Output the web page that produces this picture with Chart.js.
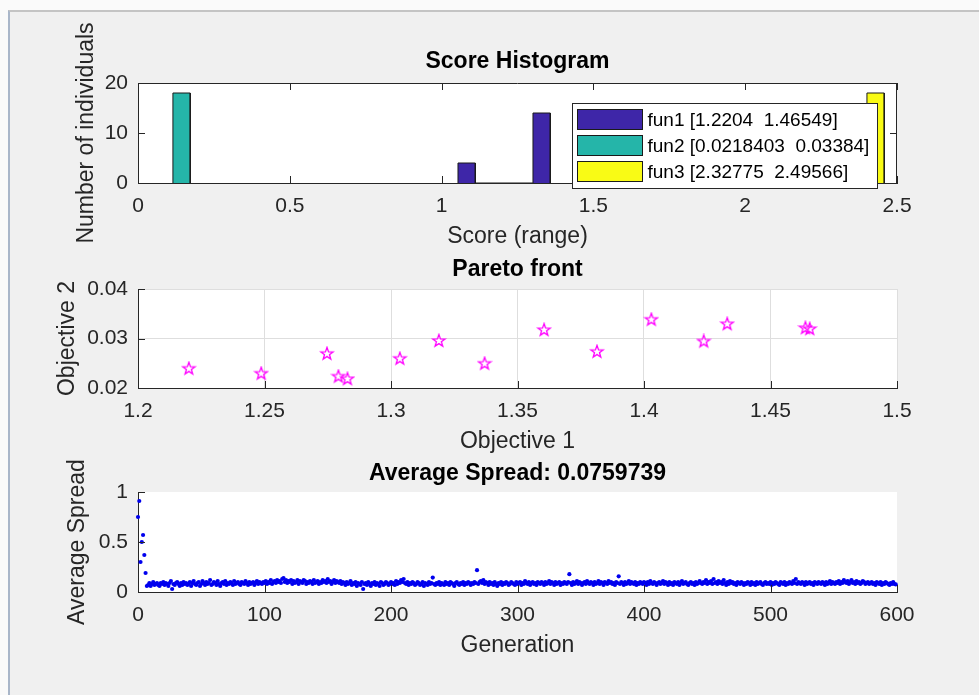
<!DOCTYPE html>
<html>
<head>
<meta charset="utf-8">
<script src="https://cdn.jsdelivr.net/npm/chart.js@4.4.1/dist/chart.umd.min.js"></script>
<style>
  html, body { margin: 0; padding: 0; width: 979px; height: 695px; overflow: hidden; background: #fafafa; }
  #fig { position: absolute; left: 8px; top: 10px; width: 971px; height: 685px; background: #f0f0f0;
         border-left: 2px solid #a9b6c9; border-top: 2px solid #c4c4c4; }
  canvas { position: absolute; left: 0; }
</style>
</head>
<body>
<div id="fig"></div>
<canvas id="histChart" width="979" height="250" style="top:5px"></canvas>
<canvas id="paretoChart" width="979" height="215" style="top:245px"></canvas>
<canvas id="spreadChart" width="979" height="240" style="top:445px"></canvas>
<script>
// score histogram: left edge of each bin + count, per function
const binWidth = 0.057;
const fun1Bins = [1.054, 1.301];
const fun1Counts = [4, 14];
const fun2Bins = [0.115];
const fun2Counts = [18];
const fun3Bins = [2.401];
const fun3Counts = [18];
const legendLabels = ["fun1 [1.2204  1.46549]", "fun2 [0.0218403  0.03384]", "fun3 [2.32775  2.49566]"];

// pareto front
const objective1 = [1.2201, 1.2487, 1.2747, 1.2792, 1.2828, 1.3035, 1.3189, 1.3370, 1.3605, 1.3814, 1.4029, 1.4236, 1.4329, 1.4638, 1.4655];
const objective2 = [0.0239, 0.0229, 0.0269, 0.0223, 0.0218, 0.0259, 0.0295, 0.0249, 0.0317, 0.0273, 0.0338, 0.0294, 0.0329, 0.0321, 0.0319];

// average spread per generation
const spread = [
  0.75,0.91,0.30,0.50,0.57,0.37,0.19,0.06,0.07,0.09,0.06,0.08,0.10,0.07,0.08,0.09,0.07,0.06,0.09,0.08,
  0.10,0.07,0.09,0.08,0.06,0.09,0.11,0.03,0.08,0.07,0.09,0.10,0.08,0.06,0.09,0.07,0.10,0.08,0.09,0.07,
  0.08,0.10,0.06,0.09,0.11,0.08,0.07,0.09,0.10,0.06,0.08,0.11,0.09,0.07,0.10,0.08,0.09,0.12,0.07,0.08,
  0.10,0.09,0.07,0.11,0.08,0.06,0.09,0.10,0.08,0.11,0.07,0.09,0.08,0.10,0.09,0.07,0.11,0.08,0.09,0.10,
  0.08,0.07,0.10,0.09,0.08,0.11,0.09,0.07,0.10,0.08,0.09,0.10,0.07,0.09,0.11,0.08,0.10,0.09,0.08,0.10,
  0.09,0.11,0.08,0.10,0.09,0.12,0.08,0.10,0.11,0.09,0.12,0.10,0.11,0.09,0.13,0.14,0.10,0.12,0.09,0.11,
  0.10,0.12,0.08,0.11,0.09,0.10,0.12,0.08,0.11,0.10,0.09,0.12,0.11,0.08,0.10,0.09,0.11,0.10,0.08,0.12,
  0.09,0.10,0.11,0.08,0.10,0.09,0.12,0.10,0.11,0.09,0.13,0.10,0.11,0.08,0.10,0.12,0.09,0.11,0.10,0.09,
  0.11,0.08,0.10,0.09,0.07,0.10,0.08,0.09,0.11,0.07,0.09,0.08,0.10,0.06,0.09,0.08,0.07,0.10,0.03,0.08,
  0.09,0.07,0.10,0.08,0.06,0.09,0.08,0.10,0.07,0.09,0.08,0.06,0.10,0.09,0.07,0.08,0.10,0.09,0.07,0.08,
  0.10,0.08,0.09,0.07,0.11,0.08,0.10,0.09,0.12,0.10,0.13,0.09,0.08,0.10,0.07,0.09,0.08,0.10,0.09,0.07,
  0.08,0.10,0.09,0.07,0.08,0.10,0.06,0.09,0.08,0.07,0.10,0.08,0.09,0.144,0.08,0.07,0.09,0.08,0.10,0.07,
  0.09,0.08,0.07,0.10,0.08,0.09,0.07,0.10,0.09,0.08,0.06,0.09,0.10,0.08,0.07,0.09,0.08,0.10,0.07,0.09,
  0.08,0.10,0.09,0.07,0.09,0.08,0.10,0.09,0.218,0.08,0.10,0.11,0.09,0.12,0.08,0.10,0.09,0.07,0.10,0.08,
  0.09,0.07,0.10,0.08,0.06,0.09,0.08,0.10,0.07,0.09,0.08,0.10,0.09,0.07,0.08,0.10,0.09,0.08,0.07,0.10,
  0.08,0.09,0.10,0.07,0.09,0.08,0.11,0.09,0.08,0.10,0.07,0.09,0.10,0.08,0.09,0.07,0.10,0.09,0.08,0.10,
  0.09,0.07,0.10,0.08,0.09,0.11,0.08,0.10,0.09,0.07,0.10,0.08,0.09,0.10,0.07,0.09,0.08,0.10,0.09,0.08,
  0.10,0.178,0.09,0.07,0.10,0.08,0.09,0.11,0.08,0.10,0.09,0.07,0.09,0.10,0.08,0.11,0.09,0.08,0.10,0.09,
  0.07,0.10,0.08,0.09,0.11,0.08,0.10,0.09,0.07,0.10,0.09,0.08,0.11,0.09,0.10,0.08,0.09,0.07,0.10,0.09,
  0.157,0.08,0.10,0.09,0.07,0.10,0.08,0.09,0.11,0.08,0.10,0.09,0.08,0.10,0.07,0.09,0.08,0.10,0.09,0.08,
  0.10,0.09,0.07,0.10,0.08,0.11,0.09,0.08,0.10,0.09,0.07,0.09,0.10,0.08,0.09,0.11,0.08,0.10,0.09,0.07,
  0.10,0.08,0.09,0.07,0.10,0.09,0.08,0.10,0.07,0.09,0.11,0.08,0.09,0.10,0.08,0.07,0.09,0.10,0.08,0.09,
  0.07,0.10,0.08,0.09,0.11,0.09,0.08,0.10,0.09,0.12,0.08,0.10,0.09,0.11,0.08,0.13,0.09,0.10,0.08,0.11,
  0.09,0.10,0.08,0.12,0.09,0.07,0.10,0.08,0.11,0.09,0.10,0.08,0.09,0.07,0.10,0.09,0.08,0.10,0.09,0.07,
  0.09,0.08,0.10,0.09,0.07,0.10,0.08,0.09,0.07,0.10,0.08,0.09,0.10,0.08,0.07,0.09,0.10,0.08,0.09,0.08,
  0.10,0.07,0.09,0.08,0.10,0.09,0.08,0.07,0.10,0.09,0.08,0.10,0.07,0.09,0.08,0.10,0.09,0.08,0.11,0.09,
  0.13,0.08,0.10,0.09,0.08,0.10,0.09,0.07,0.10,0.08,0.09,0.10,0.08,0.09,0.07,0.10,0.09,0.08,0.10,0.09,
  0.08,0.10,0.09,0.07,0.10,0.08,0.09,0.11,0.08,0.10,0.09,0.08,0.10,0.09,0.11,0.08,0.10,0.09,0.12,0.10,
  0.09,0.11,0.08,0.10,0.12,0.09,0.10,0.08,0.11,0.09,0.10,0.08,0.09,0.11,0.10,0.08,0.09,0.10,0.08,0.09,
  0.10,0.08,0.09,0.07,0.10,0.09,0.08,0.10,0.07,0.09,0.08,0.10,0.09,0.08,0.07,0.09,0.08,0.10,0.08,0.076
];

const FONT = '"Liberation Sans", Arial, Helvetica, sans-serif';
const INK = "#262626";
const colors = { fun1: "#3e26a8", fun2: "#25b5a9", fun3: "#f9fb15" };

Chart.defaults.font.family = FONT;
Chart.defaults.color = INK;
Chart.defaults.animation = false;
Chart.defaults.events = [];

const fmt = v => String(+Number(v).toFixed(3));

// white axes background, inward tick marks, optional full box (MATLAB look)
const matlabAxes = {
  id: "matlabAxes",
  beforeDraw(chart) {
    const { ctx, chartArea: a } = chart;
    ctx.save();
    ctx.fillStyle = "#fff";
    ctx.fillRect(a.left, a.top, a.right - a.left, a.bottom - a.top);
    ctx.restore();
  },
  afterDraw(chart, args, opts) {
    const { ctx, chartArea: a } = chart;
    const len = 7;
    ctx.save();
    ctx.strokeStyle = INK;
    ctx.lineWidth = 1;
    ctx.beginPath();
    for (const t of chart.scales.x.ticks) {
      const px = Math.round(chart.scales.x.getPixelForValue(t.value)) + 0.5;
      ctx.moveTo(px, a.bottom); ctx.lineTo(px, a.bottom - len);
      if (opts.box) { ctx.moveTo(px, a.top); ctx.lineTo(px, a.top + len); }
    }
    for (const t of chart.scales.y.ticks) {
      const py = Math.round(chart.scales.y.getPixelForValue(t.value)) + 0.5;
      ctx.moveTo(a.left, py); ctx.lineTo(a.left + len, py);
      if (opts.box) { ctx.moveTo(a.right, py); ctx.lineTo(a.right - len, py); }
    }
    if (opts.box) {
      ctx.moveTo(a.left, Math.round(a.top) + 0.5); ctx.lineTo(a.right, Math.round(a.top) + 0.5);
      ctx.moveTo(Math.round(a.right) - 0.5, a.top); ctx.lineTo(Math.round(a.right) - 0.5, a.bottom);
    }
    ctx.stroke();
    ctx.restore();
  }
};

// legend box inside the histogram axes, top right
const histLegend = {
  id: "histLegend",
  afterDraw(chart) {
    const { ctx, chartArea: a } = chart;
    const w = 305, h = 85;
    const x0 = Math.round(a.right - 20 - w) + 0.5, y0 = Math.round(a.top + 20) + 0.5;
    ctx.save();
    ctx.fillStyle = "#fff";
    ctx.fillRect(x0, y0, w, h);
    ctx.strokeStyle = INK;
    ctx.lineWidth = 1;
    ctx.strokeRect(x0, y0, w, h);
    ctx.font = "19px " + FONT;
    ctx.textBaseline = "middle";
    chart.data.datasets.forEach((ds, i) => {
      const cy = y0 + 16 + i * 26;
      ctx.fillStyle = ds.backgroundColor;
      ctx.fillRect(x0 + 5, cy - 10, 65, 20);
      ctx.strokeStyle = "#1a1a1a";
      ctx.strokeRect(x0 + 5, cy - 10, 65, 20);
      ctx.fillStyle = "#000";
      ctx.fillText(ds.label, x0 + 75, cy + 1);
    });
    ctx.restore();
  }
};

function barOutline(lefts, counts) {
  const pts = [];
  lefts.forEach((l, i) => {
    const r = l + binWidth;
    pts.push({ x: l, y: 0 }, { x: l, y: counts[i] }, { x: r, y: counts[i] }, { x: r, y: 0 });
  });
  return pts;
}

function barDataset(label, lefts, counts, color) {
  return {
    label, data: barOutline(lefts, counts),
    backgroundColor: color, borderColor: "#1a1a1a", borderWidth: 1,
    fill: "origin", pointRadius: 0, tension: 0
  };
}

function pentagram(color, r) {
  const s = Math.ceil(r * 2 + 3);
  const c = document.createElement("canvas");
  c.width = c.height = s;
  const g = c.getContext("2d");
  g.beginPath();
  for (let i = 0; i < 10; i++) {
    const rr = i % 2 ? r * 0.4 : r;
    const ang = -Math.PI / 2 + i * Math.PI / 5;
    g.lineTo(s / 2 + rr * Math.cos(ang), s / 2 + rr * Math.sin(ang));
  }
  g.closePath();
  g.strokeStyle = color;
  g.lineWidth = 1.3;
  g.stroke();
  return c;
}

// shared axis setup; sizes pin the plot area to the reference position
function axes(cfg) {
  return {
    x: {
      type: "linear", position: "bottom", min: cfg.xMin, max: cfg.xMax,
      ticks: { stepSize: cfg.xStep, padding: 11, maxRotation: 0, autoSkip: false, font: { size: 21 }, color: INK, callback: fmt },
      grid: { display: cfg.grid, color: "#dedede", drawTicks: false },
      border: { display: true, color: INK, width: 1 },
      title: { display: true, text: cfg.xTitle, color: INK, font: { size: 23 }, padding: { top: 0, bottom: cfg.xTitlePad } },
      afterFit: s => { s.height = cfg.xHeight; }
    },
    y: {
      type: "linear", min: cfg.yMin, max: cfg.yMax,
      ticks: { stepSize: cfg.yStep, padding: 10, autoSkip: false, font: { size: 21 }, color: INK, callback: fmt },
      grid: { display: cfg.grid, color: "#dedede", drawTicks: false },
      border: { display: true, color: INK, width: 1 },
      title: { display: true, text: cfg.yTitle, color: INK, font: { size: 23 }, padding: { top: cfg.yTitlePad, bottom: 0 } },
      afterFit: s => { s.width = 138; }
    }
  };
}

function titleOpts(text, top, bottom) {
  return { display: true, text, fullSize: false, color: "#000", font: { size: 23, weight: "bold" }, padding: { top, bottom } };
}

new Chart(document.getElementById("histChart"), {
  type: "line",
  data: {
    datasets: [
      barDataset(legendLabels[0], fun1Bins, fun1Counts, colors.fun1),
      barDataset(legendLabels[1], fun2Bins, fun2Counts, colors.fun2),
      barDataset(legendLabels[2], fun3Bins, fun3Counts, colors.fun3)
    ]
  },
  options: {
    responsive: false,
    layout: { padding: { left: 0, right: 82, top: 0, bottom: 0 } },
    scales: axes({ xMin: 0, xMax: 2.5, xStep: 0.5, yMin: 0, yMax: 20, yStep: 10, grid: false,
                   xTitle: "Score (range)", yTitle: "Number of individuals",
                   xHeight: 72, xTitlePad: 4.2, yTitlePad: 73.2 }),
    plugins: {
      legend: { display: false }, tooltip: { enabled: false },
      title: titleOpts("Score Histogram", 43.2, 7.2),
      matlabAxes: { box: true }
    }
  },
  plugins: [matlabAxes, histLegend]
});

new Chart(document.getElementById("paretoChart"), {
  type: "scatter",
  data: {
    datasets: [{
      label: "Pareto front",
      data: objective1.map((x, i) => ({ x, y: objective2[i] })),
      pointStyle: pentagram("#ff00ff", 6.5),
      pointRadius: 7, clip: false
    }]
  },
  options: {
    responsive: false,
    layout: { padding: { left: 0, right: 82, top: 0, bottom: 0 } },
    scales: axes({ xMin: 1.2, xMax: 1.5, xStep: 0.05, yMin: 0.02, yMax: 0.04, yStep: 0.01, grid: true,
                   xTitle: "Objective 1", yTitle: "Objective 2",
                   xHeight: 72, xTitlePad: 4.2, yTitlePad: 54.2 }),
    plugins: {
      legend: { display: false }, tooltip: { enabled: false },
      title: titleOpts("Pareto front", 11.2, 5.2),
      matlabAxes: { box: false }
    }
  },
  plugins: [matlabAxes]
});

new Chart(document.getElementById("spreadChart"), {
  type: "scatter",
  data: {
    datasets: [{
      label: "Average Spread",
      data: spread.map((y, gen) => ({ x: gen, y })),
      backgroundColor: "#0000ee", borderWidth: 0,
      pointRadius: 2.1, clip: false
    }]
  },
  options: {
    responsive: false,
    layout: { padding: { left: 0, right: 82, top: 0, bottom: 0 } },
    scales: axes({ xMin: 0, xMax: 600, xStep: 100, yMin: 0, yMax: 1, yStep: 0.5, grid: false,
                   xTitle: "Generation", yTitle: "Average Spread",
                   xHeight: 93, xTitlePad: 25.2, yTitlePad: 64.2 }),
    plugins: {
      legend: { display: false }, tooltip: { enabled: false },
      title: titleOpts("Average Spread: 0.0759739", 15.2, 4.2),
      matlabAxes: { box: false }
    }
  },
  plugins: [matlabAxes]
});
</script>
</body>
</html>
